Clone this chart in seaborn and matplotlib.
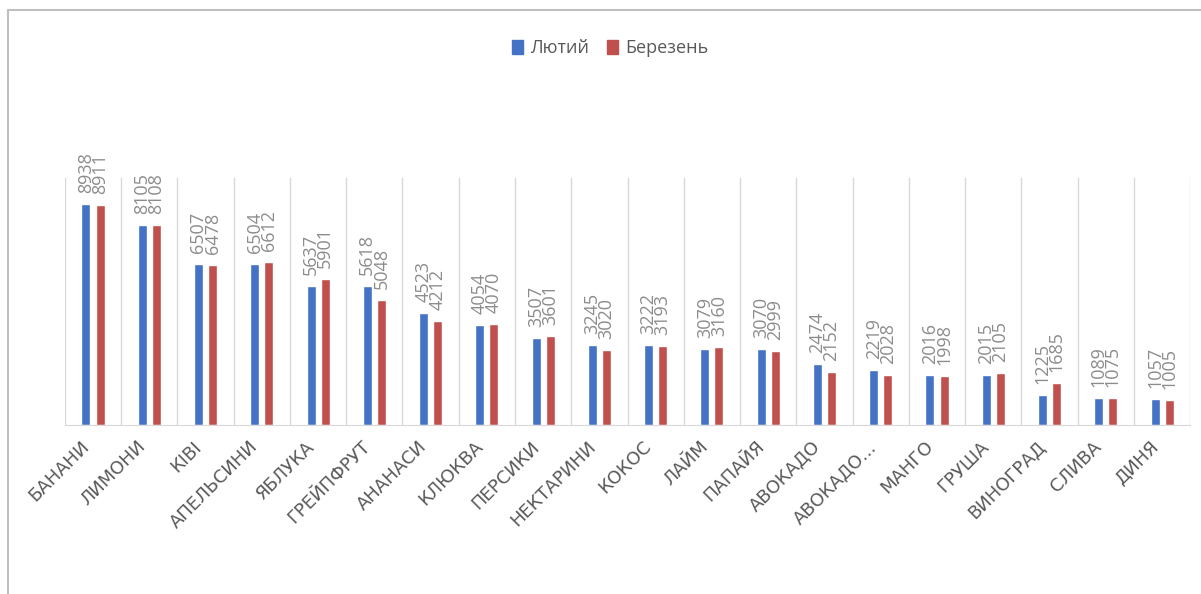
import numpy as np
import pandas as pd
import seaborn as sns
import matplotlib.pyplot as plt
import matplotlib.transforms as mtransforms
from matplotlib.patches import Patch

fruits = ['БАНАНИ', 'ЛИМОНИ', 'КІВІ', 'АПЕЛЬСИНИ', 'ЯБЛУКА', 'ГРЕЙПФРУТ', 'АНАНАСИ',
          'КЛЮКВА', 'ПЕРСИКИ', 'НЕКТАРИНИ', 'КОКОС', 'ЛАЙМ', 'ПАПАЙЯ', 'АВОКАДО',
          'АВОКАДО...', 'МАНГО', 'ГРУША', 'ВИНОГРАД', 'СЛИВА', 'ДИНЯ']
lyutyi = [8938, 8105, 6507, 6504, 5637, 5618, 4523, 4054, 3507, 3245,
          3222, 3079, 3070, 2474, 2219, 2016, 2015, 1225, 1089, 1057]
berezen = [8911, 8108, 6478, 6612, 5901, 5048, 4212, 4070, 3601, 3020,
           3193, 3160, 2999, 2152, 2028, 1998, 2105, 1685, 1075, 1005]
months = ['Лютий', 'Березень']

df = pd.DataFrame({
    'fruit': fruits * 2,
    'month': [months[0]] * len(fruits) + [months[1]] * len(fruits),
    'value': lyutyi + berezen,
})

sns.set_style('white')
plt.rcParams['font.family'] = ['Open Sans', 'DejaVu Sans']

fig = plt.figure(figsize=(12.01, 5.94), dpi=100)
ax = fig.add_axes([0.054, 0.2845, 0.937, 0.4158])

colors = ['#4472C4', '#C0504D']
sns.barplot(data=df, x='fruit', y='value', hue='month', palette=colors,
            saturation=1, width=0.5, gap=0.36, ax=ax, legend=False)

# value labels, vertical, above every bar (they touch each other as in the original)
for cont in ax.containers:
    ax.bar_label(cont, rotation=90, padding=8, color='#8C8C8C', fontsize=13)

ax.set_ylim(0, 10000)
ax.set_xlim(-0.5, len(fruits) - 0.5)
ax.set_yticks([])
ax.set_xlabel('')
ax.set_ylabel('')

# separators between categories
for b in np.arange(-0.5, len(fruits), 1.0):
    ax.axvline(b, color='#D9D9D9', lw=1, zorder=0)

for s in ['top', 'right', 'left']:
    ax.spines[s].set_visible(False)
ax.spines['bottom'].set_color('#D9D9D9')

ax.tick_params(axis='x', length=0, pad=9)
shift = mtransforms.ScaledTranslation(-0.13, 0, fig.dpi_scale_trans)
for lab in ax.get_xticklabels():
    lab.set_rotation(45)
    lab.set_ha('right')
    lab.set_rotation_mode('anchor')
    lab.set_color('#595959')
    lab.set_fontsize(13)
    lab.set_fontfamily(['DejaVu Sans'])
    lab.set_transform(lab.get_transform() + shift)

handles = [Patch(color=c, label=m) for c, m in zip(colors, months)]
fig.legend(handles=handles, loc='center', bbox_to_anchor=(0.508, 0.919), ncol=2,
           frameon=False, fontsize=13, handlelength=0.6, handleheight=0.8,
           handletextpad=0.4, columnspacing=1.0, labelcolor='#595959')

# outer chart frame
fig.add_artist(plt.Line2D([0.007, 0.007], [0.0, 0.983], color='#BFBFBF', lw=1.5,
                          transform=fig.transFigure))
fig.add_artist(plt.Line2D([0.007, 1.0], [0.983, 0.983], color='#BFBFBF', lw=1.5,
                          transform=fig.transFigure))

fig.savefig('out.png', dpi=100)
